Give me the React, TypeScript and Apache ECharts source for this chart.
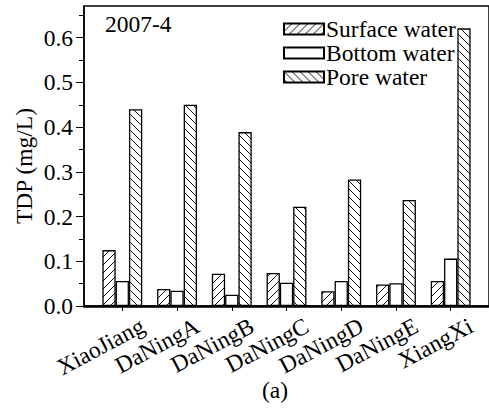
import React, { useEffect, useRef } from "react";
import * as echarts from "echarts";

const categories = ["XiaoJiang", "DaNingA", "DaNingB", "DaNingC", "DaNingD", "DaNingE", "XiangXi"];
const surfaceWater = [0.125, 0.038, 0.072, 0.074, 0.033, 0.048, 0.056];
const bottomWater = [0.056, 0.034, 0.025, 0.052, 0.056, 0.051, 0.106];
const poreWater = [0.44, 0.45, 0.389, 0.222, 0.283, 0.237, 0.621];
const yTicks = [0, 0.1, 0.2, 0.3, 0.4, 0.5, 0.6];
const yMinorTicks = [0.05, 0.15, 0.25, 0.35, 0.45, 0.55, 0.65];
const seriesNames = ["Surface water", "Bottom water", "Pore water"];

const FONT = "Liberation Serif";
const FS = 23.5;
const LABEL_SHIFT = 0.37;

function hatch(dir: number) {
  const s = 8;
  const c = document.createElement("canvas");
  c.width = s;
  c.height = s;
  const ctx = c.getContext("2d")!;
  ctx.fillStyle = "#fff";
  ctx.fillRect(0, 0, s, s);
  ctx.strokeStyle = "#111";
  ctx.lineWidth = 1;
  ctx.beginPath();
  if (dir > 0) {
    ctx.moveTo(0, s); ctx.lineTo(s, 0);
    ctx.moveTo(-1, 1); ctx.lineTo(1, -1);
    ctx.moveTo(s - 1, s + 1); ctx.lineTo(s + 1, s - 1);
  } else {
    ctx.moveTo(0, 0); ctx.lineTo(s, s);
    ctx.moveTo(s - 1, -1); ctx.lineTo(s + 1, 1);
    ctx.moveTo(-1, s - 1); ctx.lineTo(1, s + 1);
  }
  ctx.stroke();
  return { image: c, repeat: "repeat" } as any;
}

export default function App() {
  const ref = useRef<HTMLDivElement>(null);
  useEffect(() => {
    if (!ref.current) return;
    const chart = echarts.init(ref.current, null, { renderer: "svg" });
    const fills = [hatch(1), "#ffffff", hatch(-1)];
    const datasets = [surfaceWater, bottomWater, poreWater];
    const series = datasets.map((arr, i) => ({
      name: seriesNames[i],
      type: "bar",
      barWidth: 13.3,
      barGap: "0%",
      data: arr.map((v, k) => [k + 1, v]),
      itemStyle: { color: fills[i], borderColor: "#000", borderWidth: 1.3 },
    }));
    const tickPos = categories.map((_, k) => k + 1);
    chart.setOption({
      animation: false,
      backgroundColor: "#fff",
      textStyle: { fontFamily: FONT },
      grid: {
        left: 84,
        top: 6,
        bottom: 102,
        right: -3,
        show: true,
        borderColor: "#000",
        borderWidth: 1.5,
        backgroundColor: "transparent",
      },
      legend: {
        data: seriesNames,
        orient: "vertical",
        left: 283,
        top: 17,
        padding: 0,
        itemWidth: 40,
        itemHeight: 11,
        itemGap: 0,
        icon: "rect",
        textStyle: { fontSize: FS, fontFamily: FONT, color: "#000", lineHeight: 19.5, padding: [0, 0, 0, -3] },
      },
      xAxis: {
        type: "value",
        min: 0.3,
        max: 7.7,
        splitLine: { show: false },
        axisLine: { show: true, lineStyle: { color: "#000", width: 2.5 } },
        axisTick: { show: true, customValues: tickPos, length: 5, lineStyle: { color: "#000", width: 1 } },
        axisLabel: {
          customValues: tickPos.map((p) => p + LABEL_SHIFT),
          formatter: (v: number) => categories[Math.round(v - LABEL_SHIFT) - 1] || "",
          rotate: 28,
          fontSize: FS,
          fontFamily: FONT,
          color: "#000",
          margin: 18,
        },
      },
      yAxis: [
        {
          type: "value",
          min: 0,
          max: 0.671,
          splitLine: { show: false },
          axisLine: { show: true, lineStyle: { color: "#000", width: 1.5 } },
          axisTick: { show: true, customValues: yTicks, length: 8, lineStyle: { color: "#000", width: 1 } },
          axisLabel: {
            customValues: yTicks,
            formatter: (v: number) => v.toFixed(1),
            fontSize: FS,
            fontFamily: FONT,
            color: "#000",
            margin: 11,
          },
        },
        {
          type: "value",
          min: 0,
          max: 0.671,
          position: "left",
          splitLine: { show: false },
          axisLine: { show: false },
          axisTick: { show: true, customValues: yMinorTicks, length: 5, lineStyle: { color: "#000", width: 1 } },
          axisLabel: { show: false },
        },
      ],
      graphic: [
        {
          type: "text",
          left: 105,
          top: 12,
          style: { text: "2007-4", fontSize: FS, fontFamily: FONT, fill: "#000" },
        },
        {
          type: "text",
          x: 24,
          y: 166,
          rotation: Math.PI / 2,
          style: { text: "TDP (mg/L)", fontSize: FS, fontFamily: FONT, fill: "#000", align: "center", verticalAlign: "middle" },
        },
        {
          type: "text",
          x: 275,
          y: 390,
          style: { text: "(a)", fontSize: FS, fontFamily: FONT, fill: "#000", align: "center", verticalAlign: "middle" },
        },
      ],
      series,
    });
    return () => chart.dispose();
  }, []);
  return <div ref={ref} style={{ width: 489, height: 408, position: "absolute", left: 0, top: 0 }} />;
}
